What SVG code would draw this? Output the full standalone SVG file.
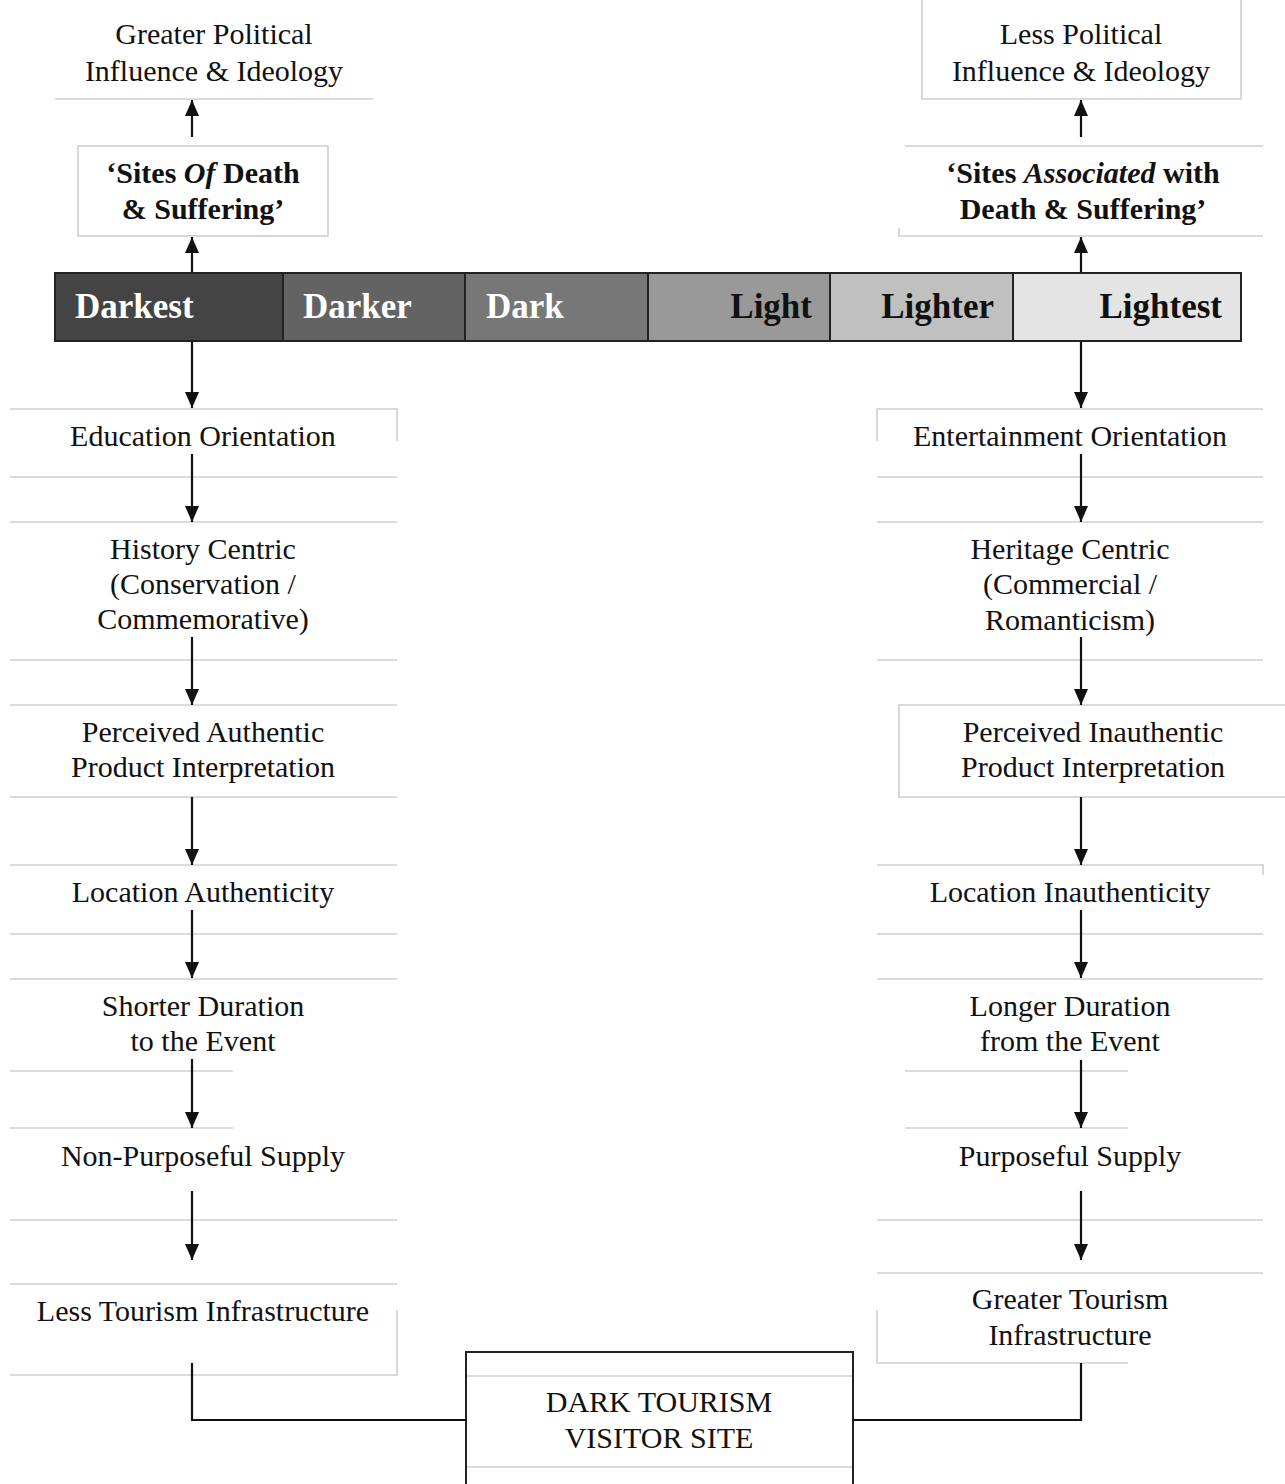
<svg xmlns="http://www.w3.org/2000/svg" width="1285" height="1484" viewBox="0 0 1285 1484">
<style>
  .t { font-family: "Liberation Serif", "Times New Roman", serif; font-size: 30px; fill: #111; text-anchor: middle; }
  .b { font-weight: bold; }
  .bar { font-family: "Liberation Serif", "Times New Roman", serif; font-size: 35px; font-weight: bold; }
  .g { stroke: #cfcfcf; stroke-width: 1.6; fill: none; }
  .c { stroke: #111; stroke-width: 2.2; fill: none; }
  .seg { stroke: #222; stroke-width: 2; }
</style>
<defs>
  <marker id="ah" markerUnits="userSpaceOnUse" markerWidth="16" markerHeight="14" viewBox="0 0 16 14" refX="16" refY="7" orient="auto">
    <path d="M0,0 L16,7 L0,14 z" fill="#111"/>
  </marker>
</defs>
<rect width="1285" height="1484" fill="#fff"/>

<!-- top nodes -->
<g id="n-greater-political">
  <line class="g" x1="55" y1="99" x2="373" y2="99"/>
  <text class="t" x="214" y="44">Greater Political</text>
  <text class="t" x="214" y="81">Influence &amp; Ideology</text>
</g>
<g id="n-less-political">
  <path class="g" d="M922,0 V99 H1241 V0"/>
  <text class="t" x="1081" y="44">Less Political</text>
  <text class="t" x="1081" y="81">Influence &amp; Ideology</text>
</g>
<g id="n-sites-of">
  <rect class="g" x="78" y="146" width="250" height="90"/>
  <text class="t b" x="203" y="183">‘Sites <tspan font-style="italic">Of</tspan> Death</text>
  <text class="t b" x="203" y="219">&amp; Suffering’</text>
</g>
<g id="n-sites-associated">
  <line class="g" x1="905" y1="146" x2="1263" y2="146"/>
  <path class="g" d="M899,228 V236 H1263"/>
  <text class="t b" x="1083" y="183">‘Sites <tspan font-style="italic">Associated</tspan> with</text>
  <text class="t b" x="1083" y="219">Death &amp; Suffering’</text>
</g>

<!-- spectrum bar -->
<g id="n-spectrum">
  <rect class="seg" x="55" y="273" width="228" height="68" fill="#444444"/>
  <rect class="seg" x="283" y="273" width="182" height="68" fill="#636363"/>
  <rect class="seg" x="465" y="273" width="183" height="68" fill="#777777"/>
  <rect class="seg" x="648" y="273" width="182" height="68" fill="#999999"/>
  <rect class="seg" x="830" y="273" width="183" height="68" fill="#c0c0c0"/>
  <rect class="seg" x="1013" y="273" width="228" height="68" fill="#e4e4e4"/>
  <text class="bar" x="75" y="318" fill="#fff">Darkest</text>
  <text class="bar" x="303" y="318" fill="#fff">Darker</text>
  <text class="bar" x="486" y="318" fill="#fff">Dark</text>
  <text class="bar" x="812" y="318" fill="#111" text-anchor="end">Light</text>
  <text class="bar" x="994" y="318" fill="#111" text-anchor="end">Lighter</text>
  <text class="bar" x="1222" y="318" fill="#111" text-anchor="end">Lightest</text>
</g>

<!-- left column -->
<g id="n-education">
  <path class="g" d="M10,409 H397 V441"/>
  <line class="g" x1="10" y1="477" x2="397" y2="477"/>
  <text class="t" x="203" y="446">Education Orientation</text>
</g>
<g id="n-history">
  <line class="g" x1="10" y1="522" x2="397" y2="522"/>
  <line class="g" x1="10" y1="660" x2="397" y2="660"/>
  <text class="t" x="203" y="559">History Centric</text>
  <text class="t" x="203" y="594">(Conservation /</text>
  <text class="t" x="203" y="629">Commemorative)</text>
</g>
<g id="n-perceived-authentic">
  <line class="g" x1="10" y1="705" x2="397" y2="705"/>
  <line class="g" x1="10" y1="797" x2="397" y2="797"/>
  <text class="t" x="203" y="742">Perceived Authentic</text>
  <text class="t" x="203" y="777">Product Interpretation</text>
</g>
<g id="n-location-authenticity">
  <line class="g" x1="10" y1="865" x2="397" y2="865"/>
  <line class="g" x1="10" y1="934" x2="397" y2="934"/>
  <text class="t" x="203" y="902">Location Authenticity</text>
</g>
<g id="n-shorter-duration">
  <line class="g" x1="10" y1="979" x2="397" y2="979"/>
  <line class="g" x1="10" y1="1071" x2="233" y2="1071"/>
  <text class="t" x="203" y="1016">Shorter Duration</text>
  <text class="t" x="203" y="1051">to the Event</text>
</g>
<g id="n-non-purposeful">
  <line class="g" x1="10" y1="1128" x2="233" y2="1128"/>
  <line class="g" x1="10" y1="1220" x2="397" y2="1220"/>
  <text class="t" x="203" y="1166">Non-Purposeful Supply</text>
</g>
<g id="n-less-tourism">
  <line class="g" x1="10" y1="1284" x2="397" y2="1284"/>
  <path class="g" d="M397,1310 V1375 H10"/>
  <text class="t" x="203" y="1321">Less Tourism Infrastructure</text>
</g>

<!-- right column -->
<g id="n-entertainment">
  <path class="g" d="M877,441 V409 H1263"/>
  <line class="g" x1="877" y1="477" x2="1263" y2="477"/>
  <text class="t" x="1070" y="446">Entertainment Orientation</text>
</g>
<g id="n-heritage">
  <line class="g" x1="877" y1="522" x2="1263" y2="522"/>
  <line class="g" x1="877" y1="660" x2="1263" y2="660"/>
  <text class="t" x="1070" y="559">Heritage Centric</text>
  <text class="t" x="1070" y="594">(Commercial /</text>
  <text class="t" x="1070" y="630">Romanticism)</text>
</g>
<g id="n-perceived-inauthentic">
  <path class="g" d="M1285,705 H899 V797 H1285"/>
  <text class="t" x="1093" y="742">Perceived Inauthentic</text>
  <text class="t" x="1093" y="777">Product Interpretation</text>
</g>
<g id="n-location-inauthenticity">
  <path class="g" d="M877,865 H1263 V875"/>
  <line class="g" x1="877" y1="934" x2="1263" y2="934"/>
  <text class="t" x="1070" y="902">Location Inauthenticity</text>
</g>
<g id="n-longer-duration">
  <line class="g" x1="877" y1="979" x2="1263" y2="979"/>
  <line class="g" x1="905" y1="1071" x2="1128" y2="1071"/>
  <text class="t" x="1070" y="1016">Longer Duration</text>
  <text class="t" x="1070" y="1051">from the Event</text>
</g>
<g id="n-purposeful">
  <line class="g" x1="905" y1="1128" x2="1128" y2="1128"/>
  <line class="g" x1="877" y1="1220" x2="1263" y2="1220"/>
  <text class="t" x="1070" y="1166">Purposeful Supply</text>
</g>
<g id="n-greater-tourism">
  <line class="g" x1="877" y1="1273" x2="1263" y2="1273"/>
  <path class="g" d="M877,1310 V1363 H1128"/>
  <text class="t" x="1070" y="1309">Greater Tourism</text>
  <text class="t" x="1070" y="1345">Infrastructure</text>
</g>

<!-- center node -->
<g id="n-dark-tourism-site">
  <path d="M466,1484 V1352 H853 V1484" stroke="#222" stroke-width="2" fill="#fff"/>
  <line class="g" x1="467" y1="1376" x2="852" y2="1376"/>
  <line class="g" x1="467" y1="1467" x2="852" y2="1467"/>
  <text class="t" x="659" y="1412">DARK TOURISM</text>
  <text class="t" x="659" y="1448">VISITOR SITE</text>
</g>

<!-- connectors -->
<g id="connectors">
  <line class="c" x1="192" y1="137" x2="192" y2="100" marker-end="url(#ah)"/>
  <line class="c" x1="192" y1="272" x2="192" y2="237" marker-end="url(#ah)"/>
  <line class="c" x1="1081" y1="137" x2="1081" y2="100" marker-end="url(#ah)"/>
  <line class="c" x1="1081" y1="272" x2="1081" y2="237" marker-end="url(#ah)"/>

  <line class="c" x1="192" y1="342" x2="192" y2="408" marker-end="url(#ah)"/>
  <line class="c" x1="192" y1="454" x2="192" y2="522" marker-end="url(#ah)"/>
  <line class="c" x1="192" y1="637" x2="192" y2="705" marker-end="url(#ah)"/>
  <line class="c" x1="192" y1="797" x2="192" y2="865" marker-end="url(#ah)"/>
  <line class="c" x1="192" y1="910" x2="192" y2="978" marker-end="url(#ah)"/>
  <line class="c" x1="192" y1="1059" x2="192" y2="1128" marker-end="url(#ah)"/>
  <line class="c" x1="192" y1="1191" x2="192" y2="1260" marker-end="url(#ah)"/>

  <line class="c" x1="1081" y1="342" x2="1081" y2="408" marker-end="url(#ah)"/>
  <line class="c" x1="1081" y1="454" x2="1081" y2="522" marker-end="url(#ah)"/>
  <line class="c" x1="1081" y1="637" x2="1081" y2="705" marker-end="url(#ah)"/>
  <line class="c" x1="1081" y1="797" x2="1081" y2="865" marker-end="url(#ah)"/>
  <line class="c" x1="1081" y1="910" x2="1081" y2="978" marker-end="url(#ah)"/>
  <line class="c" x1="1081" y1="1060" x2="1081" y2="1128" marker-end="url(#ah)"/>
  <line class="c" x1="1081" y1="1191" x2="1081" y2="1260" marker-end="url(#ah)"/>

  <path class="c" d="M192,1363 V1420 H466"/>
  <path class="c" d="M1081,1363 V1420 H853"/>
</g>
</svg>
